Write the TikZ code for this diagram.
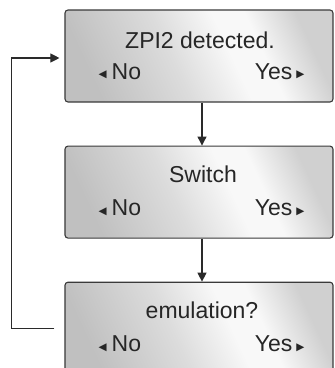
\documentclass[tikz,border=0pt]{standalone}
\usepackage{fontspec}
\setmainfont{Liberation Sans}
\newfontfamily\symfont{DejaVu Sans}
\usetikzlibrary{arrows.meta,positioning}
\definecolor{frameGray}{HTML}{3A3A3A}
\definecolor{lineGray}{HTML}{2A2A2A}
\definecolor{textGray}{HTML}{262626}
\definecolor{panelDark}{HTML}{C0C0C0}
\definecolor{panelSoft}{HTML}{DCDCDC}
\definecolor{panelLight}{HTML}{F8F8F8}
\definecolor{panelMid}{HTML}{D0D0D0}
\pgfdeclarehorizontalshading{metal}{100bp}{color(0bp)=(panelDark); color(25bp)=(panelDark);
  color(44bp)=(panelSoft); color(57bp)=(panelLight); color(64bp)=(panelLight);
  color(75bp)=(panelMid); color(100bp)=(panelMid)}
\newcommand\leftpick{{\symfont\fontsize{10.5}{10}\selectfont\raisebox{1.5pt}{◀}}\hspace{5pt}No}
\newcommand\rightpick{Yes\hspace{4pt}{\symfont\fontsize{10.5}{10}\selectfont\raisebox{1.5pt}{▶}}}

\begin{document}
\begin{tikzpicture}[
  x=1pt, y=1pt,
  >=Latex,
  font=\fontsize{23}{26}\selectfont,
  node distance=43pt,
  screen/.style={draw=frameGray, line width=1.1pt, rounded corners=3pt,
                 minimum width=268pt, minimum height=92pt, inner sep=0pt,
                 shading=metal, shading angle=25},
  title/.style={text=textGray, inner sep=0pt, anchor=base},
  pickl/.style={text=textGray, inner sep=0pt, anchor=base west},
  pickr/.style={text=textGray, inner sep=0pt, anchor=base east},
  arr/.style={-{Triangle[length=9pt,width=9pt]}, line width=1.1pt, draw=lineGray}
]
\useasboundingbox (0,0) rectangle (335,-368);
\clip (0,0) rectangle (335,-368);

\node[screen] (zpi) at (199,-56) {};
\node[screen, below=of zpi] (sw) {};
\node[screen, below=of sw] (emu) {};

% screen texts
\node[title] (zpiT) at ([xshift=1pt,yshift=-39pt]zpi.north) {ZPI2 detected.};
\node[pickl] (zpiN) at ([xshift=34pt,yshift=-70pt]zpi.north west) {\leftpick};
\node[pickr] (zpiY) at ([xshift=-29pt,yshift=-70pt]zpi.north east) {\rightpick};

\node[title] (swT) at ([xshift=4pt,yshift=-37pt]sw.north) {Switch};
\node[pickl] (swN) at ([xshift=34pt,yshift=-70pt]sw.north west) {\leftpick};
\node[pickr] (swY) at ([xshift=-29pt,yshift=-70pt]sw.north east) {\rightpick};

\node[title] (emuT) at ([xshift=3pt,yshift=-37pt]emu.north) {emulation?};
\node[pickl] (emuN) at ([xshift=34pt,yshift=-70pt]emu.north west) {\leftpick};
\node[pickr] (emuY) at ([xshift=-29pt,yshift=-70pt]emu.north east) {\rightpick};

\draw[arr] ([xshift=3pt]zpi.south) -- ([xshift=3pt]sw.north);
\draw[arr] ([xshift=3pt]sw.south) -- ([xshift=3pt]emu.north);

\coordinate (back) at ([xshift=-10pt]emu.west);
\draw[arr, shorten >=5pt] (back) -- ++(-43,0) |- ([yshift=-2pt]zpi.west);
\end{tikzpicture}
\end{document}
